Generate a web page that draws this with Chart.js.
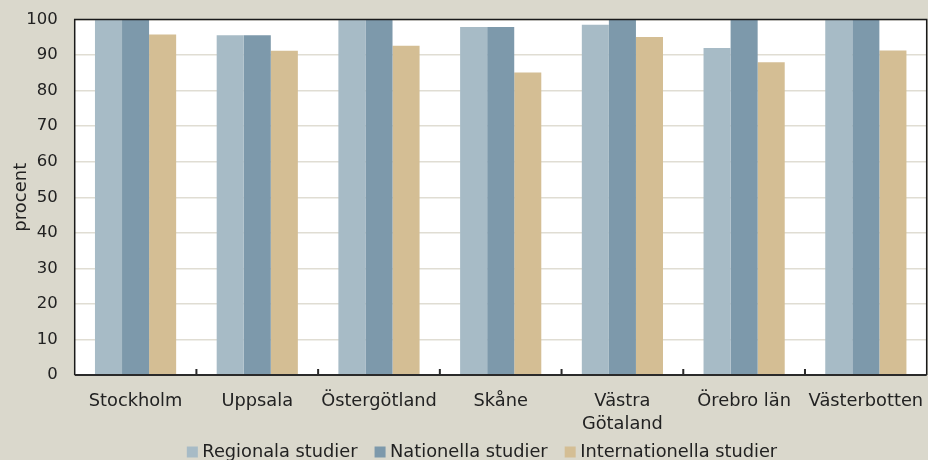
<!DOCTYPE html>
<html lang="sv">
<head>
<meta charset="utf-8">
<script src="https://cdn.jsdelivr.net/npm/chart.js@4/dist/chart.umd.min.js"></script>
<style>
  html, body { margin: 0; padding: 0; background: #dad8cc; }
  #wrap { width: 928px; height: 460px; overflow: hidden; position: relative; }
  canvas { display: block; }
</style>
</head>
<body>
<div id="wrap"><canvas id="c" width="928" height="460"></canvas></div>
<script>
// Andel (procent) per region och typ av studie
const categories = ['Stockholm', 'Uppsala', 'Östergötland', 'Skåne', ['Västra', 'Götaland'], 'Örebro län', 'Västerbotten'];
const seriesNames = ['Regionala studier', 'Nationella studier', 'Internationella studier'];
const regionala = [100, 95.6, 100, 97.9, 98.5, 92.0, 100];
const nationella = [100, 95.6, 100, 97.9, 100, 100, 100];
const internationella = [95.8, 91.2, 92.6, 85.1, 95.1, 88.0, 91.3];
const yTicks = [0, 10, 20, 30, 40, 50, 60, 70, 80, 90, 100];

const colors = ['#a7bbc6', '#7d99ab', '#d4be94'];
const FONT = 'DejaVu Sans';
const TEXT = '#222222';

// Page background, white plot area, frame and category tick marks
const framePlugin = {
  id: 'frame',
  beforeDraw(chart) {
    const { ctx, chartArea: a } = chart;
    ctx.save();
    ctx.fillStyle = '#dad8cc';
    ctx.fillRect(0, 0, chart.width, chart.height);
    ctx.fillStyle = '#ffffff';
    ctx.fillRect(a.left, a.top, a.right - a.left, a.bottom - a.top);
    ctx.restore();
  },
  afterDatasetsDraw(chart) {
    const { ctx, chartArea: a, scales } = chart;
    const x = scales.x;
    ctx.save();
    ctx.strokeStyle = '#1a1a1a';
    ctx.lineWidth = 1.5;
    ctx.beginPath();
    ctx.moveTo(a.left, a.bottom);
    ctx.lineTo(a.left, a.top);
    ctx.lineTo(a.right, a.top);
    ctx.lineTo(a.right, a.bottom);
    ctx.stroke();
    ctx.lineWidth = 2;
    ctx.strokeStyle = '#2a2a2a';
    ctx.beginPath();
    ctx.moveTo(a.left, a.bottom);
    ctx.lineTo(a.right, a.bottom);
    // inward tick marks on the category boundaries
    const n = categories.length;
    const step = (x.getPixelForValue(1) - x.getPixelForValue(0));
    for (let i = 1; i < n; i++) {
      const px = x.getPixelForValue(i) - step / 2;
      ctx.moveTo(px, a.bottom);
      ctx.lineTo(px, a.bottom - 6);
    }
    ctx.stroke();
    ctx.restore();
  }
};

// Legend row along the bottom edge
const legendPlugin = {
  id: 'bottomLegend',
  afterDraw(chart) {
    const { ctx } = chart;
    const box = 11, gapText = 4.5, gapItem = 17;
    ctx.save();
    ctx.font = `17.8px "${FONT}"`;
    ctx.textBaseline = 'middle';
    const items = chart.data.datasets.map(d => ({ label: d.label, color: d.backgroundColor }));
    let total = 0;
    items.forEach((it, i) => {
      it.w = ctx.measureText(it.label).width;
      total += box + gapText + it.w + (i < items.length - 1 ? gapItem : 0);
    });
    let x = 482 - total / 2;
    const cy = 452;
    items.forEach(it => {
      ctx.fillStyle = it.color;
      ctx.fillRect(x, cy - box / 2, box, box);
      x += box + gapText;
      ctx.fillStyle = TEXT;
      ctx.fillText(it.label, x, cy);
      x += it.w + gapItem;
    });
    ctx.restore();
  }
};

new Chart(document.getElementById('c'), {
  type: 'bar',
  data: {
    labels: categories,
    datasets: [
      { label: seriesNames[0], data: regionala, backgroundColor: colors[0] },
      { label: seriesNames[1], data: nationella, backgroundColor: colors[1] },
      { label: seriesNames[2], data: internationella, backgroundColor: colors[2] }
    ]
  },
  options: {
    responsive: false,
    animation: false,
    devicePixelRatio: 1,
    layout: { padding: { left: 0, top: 19.5, right: 1.3, bottom: 25 } },
    datasets: { bar: { categoryPercentage: 0.667, barPercentage: 1.0, borderWidth: 0 } },
    plugins: { legend: { display: false }, tooltip: { enabled: false } },
    scales: {
      x: {
        grid: { display: false },
        border: { display: false },
        ticks: { color: TEXT, font: { family: FONT, size: 17.8, lineHeight: 1.3 }, padding: 7, maxRotation: 0, autoSkip: false },
        afterFit(s) { s.height = 60; s.paddingLeft = 0; s.paddingRight = 0; }
      },
      y: {
        min: 0,
        max: 100,
        afterBuildTicks(s) { s.ticks = yTicks.map(v => ({ value: v })); },
        grid: { color: '#e0ddd3', lineWidth: 1.5, drawTicks: false },
        border: { display: false },
        ticks: { color: TEXT, font: { family: FONT, size: 16.5 }, padding: 17 },
        title: { display: true, text: 'procent', color: TEXT, font: { family: FONT, size: 18 }, padding: { top: 11, bottom: 0 } },
        afterFit(s) { s.width = 74.7; s.paddingTop = 0; s.paddingBottom = 0; }
      }
    }
  },
  plugins: [framePlugin, legendPlugin]
});
</script>
</body>
</html>
